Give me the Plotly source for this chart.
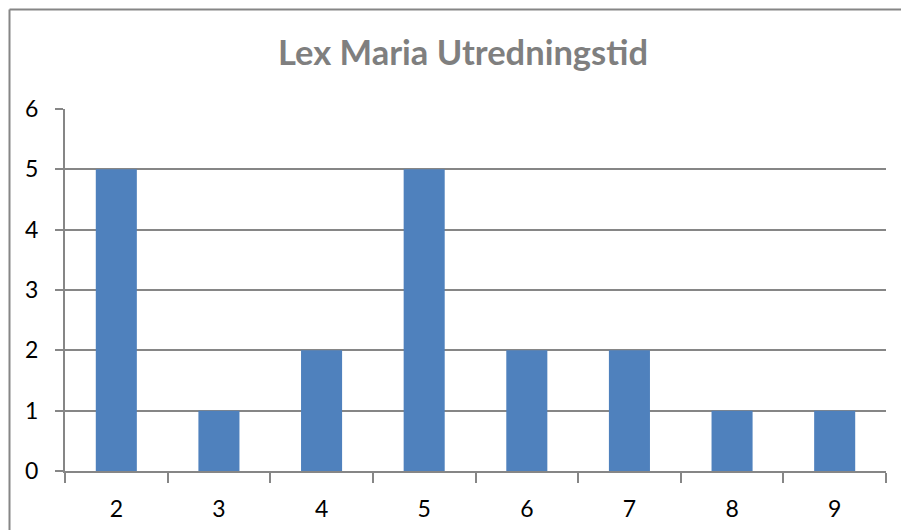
import plotly.graph_objects as go

categories = ["2", "3", "4", "5", "6", "7", "8", "9"]
values = [5, 1, 2, 5, 2, 2, 1, 1]
title_text = "Lex Maria Utredningstid"

fig = go.Figure(go.Bar(x=categories, y=values, marker=dict(color="#4F81BD", line=dict(width=0))))

W, H = 901, 530
L, T = 65, 109
pw, ph = 821, 362
R, B = W - L - pw, H - T - ph

FONT = "Lato, Noto Sans, sans-serif"

fig.update_layout(
    width=W, height=H,
    margin=dict(l=L, r=R, t=T, b=B, autoexpand=False),
    paper_bgcolor="white", plot_bgcolor="white",
    bargap=0.6,
    showlegend=False,
    font=dict(family=FONT, size=23, color="black"),
    title=dict(text="<b>" + title_text + "</b>",
               x=463 / W, xref="container", xanchor="center",
               y=1 - 53 / H, yref="container", yanchor="middle",
               font=dict(size=34.5, color="#7F7F7F", family=FONT)),
)

fig.update_xaxes(type="category", showgrid=False, showline=True, linecolor="#868686", linewidth=2,
                 ticks="outside", tickson="boundaries", ticklen=10, tickcolor="#868686", tickwidth=2,
                 tickfont=dict(size=23), ticklabelstandoff=16, fixedrange=True, automargin=False)
fig.update_yaxes(range=[0, 6], dtick=1, showgrid=True, gridcolor="#868686", gridwidth=2,
                 showline=True, linecolor="#868686", linewidth=2, zeroline=False,
                 ticks="outside", ticklen=8, tickcolor="#868686", tickwidth=2,
                 tickfont=dict(size=23), ticklabelstandoff=12, fixedrange=True, automargin=False)

# outer chart frame: only its left and top edges fall inside the picture
fx0 = (9.5 - L) / pw
fy1 = (T + ph - 9.5) / ph
frame = dict(color="#868686", width=2)
fig.add_shape(type="line", xref="paper", yref="paper", x0=fx0, x1=fx0, y0=-B / ph - 0.05, y1=fy1,
              line=frame, layer="below")
fig.add_shape(type="line", xref="paper", yref="paper", x0=fx0, x1=(W - L) / pw + 0.05, y0=fy1, y1=fy1,
              line=frame, layer="below")

fig.write_html(
    "out.html",
    config={"displayModeBar": False},
    post_script="document.body.style.margin='0';document.documentElement.style.overflow='hidden';document.body.style.overflow='hidden';",
)
